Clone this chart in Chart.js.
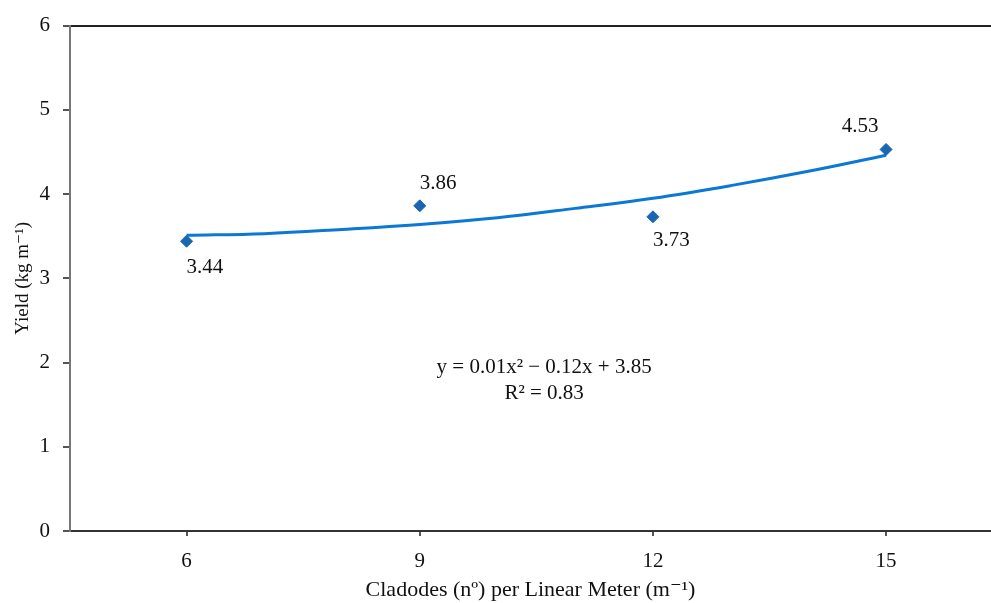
<!DOCTYPE html>
<html>
<head>
<meta charset="utf-8">
<script src="https://cdn.jsdelivr.net/npm/chart.js@4"></script>
<style>
  html, body { margin: 0; padding: 0; background: #fff; overflow: hidden; }
  #wrap { width: 991px; height: 603px; }
</style>
</head>
<body>
<div id="wrap"><canvas id="myChart"></canvas></div>
<script>
// valores
const cladodes = [6, 9, 12, 15];
const yieldValues = [3.44, 3.86, 3.73, 4.53];
const trendX = [6, 7, 8, 9, 10, 11, 12, 13, 14, 15];
const trendY = [3.51, 3.53, 3.58, 3.64, 3.72, 3.83, 3.95, 4.10, 4.27, 4.46];
const xTicks = [6, 9, 12, 15];
const yTicks = [0, 1, 2, 3, 4, 5, 6];
const equationLines = ['y = 0.01x\u00B2 \u2212 0.12x + 3.85', 'R\u00B2 = 0.83'];

const FONT = '"Liberation Serif", "DejaVu Serif", serif';

// etiquetas de los puntos y la ecuacion
const labelsPlugin = {
  id: 'pointLabels',
  afterDatasetsDraw(chart) {
    const ctx = chart.ctx;
    const x = chart.scales.x, y = chart.scales.y;
    const offs = [
      { dx: 0, dy: 26, align: 'left' },
      { dx: 0, dy: -22, align: 'left' },
      { dx: 0, dy: 24, align: 'left' },
      { dx: -26, dy: -23, align: 'center' }
    ];
    ctx.save();
    ctx.font = '21px ' + FONT;
    ctx.fillStyle = '#111';
    ctx.textBaseline = 'middle';
    cladodes.forEach((c, i) => {
      const o = offs[i];
      ctx.textAlign = o.align;
      ctx.fillText(yieldValues[i].toFixed(2), x.getPixelForValue(c) + o.dx, y.getPixelForValue(yieldValues[i]) + o.dy);
    });
    ctx.textAlign = 'center';
    const ex = x.getPixelForValue(10.6);
    const ey = y.getPixelForValue(1.94);
    equationLines.forEach((t, i) => ctx.fillText(t, ex, ey + i * 26));
    ctx.restore();
  }
};

const ctx = document.getElementById('myChart').getContext('2d');
const myChart = new Chart(ctx, {
  type: 'scatter',
  data: {
    datasets: [{
      data: trendX.map((v, i) => ({ x: v, y: trendY[i] })),
      showLine: true,
      borderColor: '#0a78d4',
      borderWidth: 3,
      pointRadius: 0,
      tension: 0.4,
      order: 2
    }, {
      data: cladodes.map((v, i) => ({ x: v, y: yieldValues[i] })),
      pointStyle: 'rectRot',
      pointRadius: 6,
      backgroundColor: '#1a66b2',
      borderColor: '#1a66b2',
      borderWidth: 1,
      order: 1
    }]
  },
  plugins: [labelsPlugin],
  options: {
    responsive: true,
    maintainAspectRatio: false,
    animation: false,
    layout: { autoPadding: false, padding: { top: 24, right: 0, left: 0, bottom: 0 } },
    plugins: {
      legend: { display: false },
      tooltip: { enabled: false }
    },
    scales: {
      x: {
        type: 'linear',
        min: 4.5,
        max: 16.35,
        afterBuildTicks: s => { s.ticks = xTicks.map(v => ({ value: v })); },
        afterFit: s => { s.height = 72; s.paddingRight = 0; s.paddingLeft = 0; },
        border: { color: '#333', width: 2 },
        grid: { drawOnChartArea: false, tickLength: 5, tickColor: '#555', lineWidth: 2 },
        ticks: { color: '#111', font: { family: FONT, size: 21 }, padding: 13, maxRotation: 0 },
        title: { display: true, text: 'Cladodes (n\u00BA) per Linear Meter (m\u207B\u00B9)', color: '#111', font: { family: FONT, size: 22 }, padding: { top: 0, bottom: 0 } }
      },
      y: {
        min: 0,
        max: 6,
        afterBuildTicks: s => { s.ticks = yTicks.map(v => ({ value: v })); },
        afterFit: s => { s.width = 70; },
        border: { color: '#777', width: 2 },
        grid: {
          color: c => (c.tick && c.tick.value === 6) ? '#222' : (c.tick && c.tick.value === 0 ? '#333' : 'rgba(0,0,0,0)'),
          lineWidth: 2,
          tickLength: 7,
          tickColor: '#555'
        },
        ticks: { color: '#111', font: { family: FONT, size: 21 }, padding: 13 },
        title: { display: true, text: 'Yield (kg m\u207B\u00B9)', color: '#111', font: { family: FONT, size: 19 }, padding: { top: 12, bottom: 2 } }
      }
    }
  }
});
</script>
</body>
</html>
